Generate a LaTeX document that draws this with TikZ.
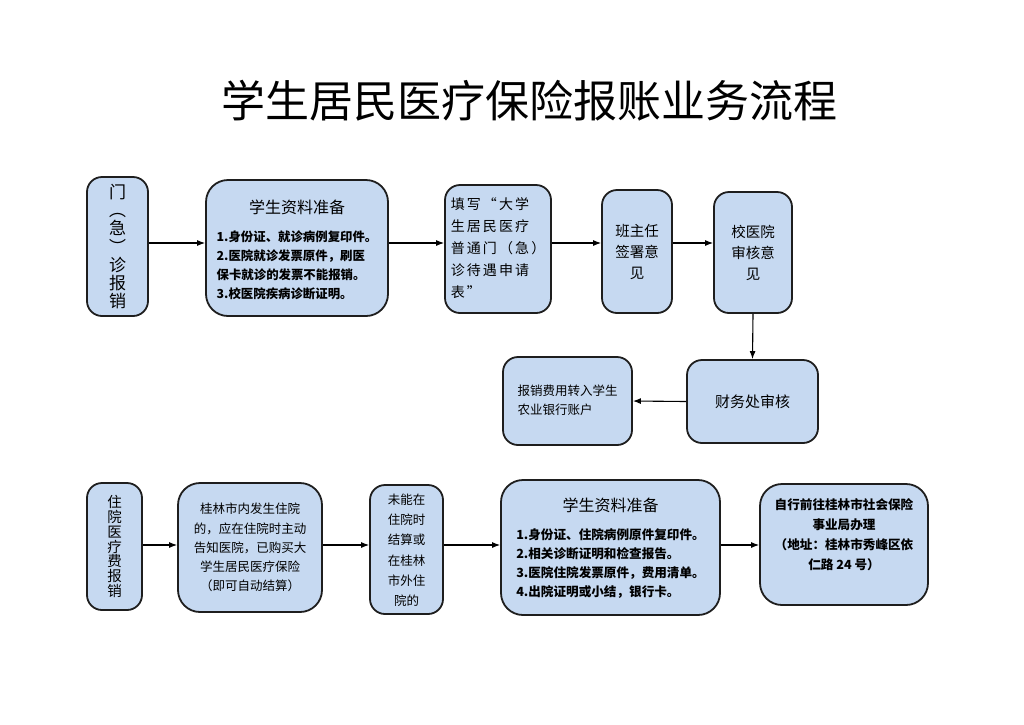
\documentclass[tikz,border=0pt]{standalone}
\usepackage{fontspec}
\usepackage{graphicx}
\setmainfont{Noto Sans CJK SC}
\usetikzlibrary{arrows.meta}
\definecolor{boxblue}{RGB}{198,217,241}
\definecolor{boxline}{RGB}{30,30,30}
\tikzset{
  box/.style={draw=boxline, line width=1.8pt, fill=boxblue, rounded corners=15pt,
    inner sep=0pt, align=center},
  bigbox/.style={box, rounded corners=22pt},
  arrow/.style={draw=black, line width=1.1pt, -{Latex[length=8pt,width=6pt]}}
}
\newcommand{\fs}[2]{\fontsize{#1}{#2}\selectfont}
\newcommand{\vparen}[2]{\rotatebox[origin=c]{#1}{#2}}
\newcommand{\textdown}[2]{\raisebox{-#1}[\height][\depth]{#2}}
\begin{document}
\begin{tikzpicture}[x=1pt,y=-1pt]
    \useasboundingbox (0,0) rectangle (1024,724);
    \fill[white] (0,0) rectangle (1024,724);

    \node[font=\fs{44}{50}] (title) at (529,101) {学生居民医疗保险报账业务流程};

    % first row
    \coordinate (row1) at (0,243);
    \node[box, minimum width=61pt, minimum height=139pt, font=\fs{17}{18.3}] (menzhen) at (117.5,246.5)
        {门\\\vparen{-90}{（}\\急\\\vparen{-90}{）}\\诊\\报\\销};
    \node[bigbox, minimum width=182pt, minimum height=136pt, font=\fs{12.4}{18.8}\bfseries] (ziliao) at (297,248)
        {\textdown{4pt}{\begin{tabular}{@{}l@{}}
         \multicolumn{1}{@{}c@{}}{\fs{16}{18.8}\mdseries 学生资料准备}\\[9pt]
         1.身份证、就诊病例复印件。\\
         2.医院就诊发票原件，刷医\\
         保卡就诊的发票不能报销。\\
         3.校医院疾病诊断证明。
         \end{tabular}}};
    \node[box, minimum width=106pt, minimum height=128pt, font=\fs{14}{22}\addfontfeatures{LetterSpace=15}] (tianxie) at (498,249)
        {\begin{tabular}{@{}l@{}}
         填写“大学\\ 生居民医疗\\ 普通门（急）\\ 诊待遇申请\\ 表”
         \end{tabular}};
    \node[box, minimum width=70pt, minimum height=123pt, font=\fs{14.5}{21}] (banzhuren) at (637,251.5)
        {班主任\\签署意\\见};
    \node[box, minimum width=78pt, minimum height=121pt, font=\fs{14.5}{21}] (xiaoyiyuan) at (753,252.5)
        {校医院\\审核意\\见};

    \draw[arrow] (menzhen.east |- row1) -- (ziliao.west |- row1);
    \draw[arrow] (ziliao.east |- row1) -- (tianxie.west |- row1);
    \draw[arrow] (tianxie.east |- row1) -- (banzhuren.west |- row1);
    \draw[arrow] (banzhuren.east |- row1) -- (xiaoyiyuan.west |- row1);

    % second row
    \node[box, minimum width=131pt, minimum height=83pt, font=\fs{15}{20}] (caiwu) at (752.5,401.5)
        {财务处审核};
    \node[box, minimum width=129pt, minimum height=88pt, font=\fs{12.5}{19}] (zhuanru) at (567.5,401)
        {\begin{tabular}{@{}l@{}}报销费用转入学生\\ 农业银行账户\end{tabular}};

    \draw[arrow] (xiaoyiyuan.south) -- (caiwu.north);
    \draw[arrow] (caiwu.west) -- (zhuanru.east);

    % third row
    \coordinate (row3) at (0,545);
    \node[box, minimum width=55pt, minimum height=127pt, font=\fs{14.5}{14.8}] (zhuyuan) at (114.5,546.5)
        {住\\院\\医\\疗\\费\\报\\销};
    \node[bigbox, minimum width=144pt, minimum height=129pt, font=\fs{12.5}{19.2}] (guilin) at (250,547.5)
        {桂林市内发生住院\\的，应在住院时主动\\告知医院，已购买大\\
         学生居民医疗保险\\（即可自动结算）};
    \node[box, minimum width=73pt, minimum height=129pt, font=\fs{12.5}{20.3}] (weineng) at (406.5,549.5)
        {\textdown{1.5pt}{\begin{tabular}{@{}c@{}}未能在\\住院时\\结算或\\在桂林\\市外住\\院的\end{tabular}}};
    \node[bigbox, minimum width=219pt, minimum height=135pt, font=\fs{12.6}{18.8}\bfseries] (ziliaob) at (610.5,547.5)
        {\textdown{2.5pt}{\begin{tabular}{@{}l@{}}
         \multicolumn{1}{@{}c@{}}{\fs{16}{18.8}\mdseries 学生资料准备}\\[9pt]
         1.身份证、住院病例原件复印件。\\
         2.相关诊断证明和检查报告。\\
         3.医院住院发票原件，费用清单。\\
         4.出院证明或小结，银行卡。
         \end{tabular}}};
    \node[bigbox, minimum width=168pt, minimum height=121pt, font=\fs{12.6}{20}\bfseries] (zixing) at (844,544.5)
        {自行前往桂林市社会保险\\ 事业局办理\\
         （地址：桂林市秀峰区依\\ 仁路 24 号）\\ \mbox{}};

    \draw[arrow] (zhuyuan.east |- row3) -- (guilin.west |- row3);
    \draw[arrow] (guilin.east |- row3) -- (weineng.west |- row3);
    \draw[arrow] (weineng.east |- row3) -- (ziliaob.west |- row3);
    \draw[arrow] (ziliaob.east |- row3) -- (zixing.west |- row3);
\end{tikzpicture}
\end{document}
